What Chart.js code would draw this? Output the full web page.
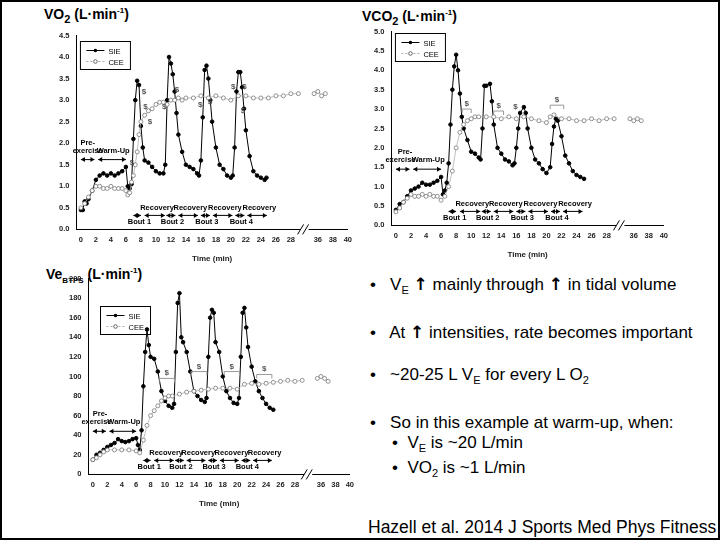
<!DOCTYPE html>
<html><head><meta charset="utf-8">
<script src="https://cdn.jsdelivr.net/npm/chart.js@4"></script>
<style>
body{margin:0;background:#fff;font-family:"Liberation Sans",Arial,sans-serif;}
#slide{position:absolute;left:0;top:0;width:716px;height:536px;border:2px solid #000;overflow:hidden;}
.c{position:absolute;}
.ttl{position:absolute;font-weight:bold;font-size:14px;color:#000;}
.ttl sub{font-size:11px;} .ttl sup{font-size:8px;}
#txt{position:absolute;left:368px;top:272px;font-size:17px;color:#000;line-height:20px;}
#txt div{margin-bottom:22px;white-space:nowrap;}
.ar{font-weight:bold;font-family:"DejaVu Sans";font-size:17px;}
#cite{position:absolute;left:366px;top:515px;font-size:17.5px;}
</style></head><body>
<div id="slide">
<div class="ttl" style="left:42px;top:4px">VO<sub>2</sub> (L·min<sup>-1</sup>)</div>
<div class="ttl" style="left:360px;top:6px">VCO<sub>2</sub> (L·min<sup>-1</sup>)</div>
<div class="ttl" style="left:44px;top:264px">Ve<sub style="font-size:8px">BTPS</sub> (L·min<sup>-1</sup>)</div>
<div class="c" style="left:54px;top:26px;width:298px;height:240px"><canvas id="c1"></canvas></div>
<div class="c" style="left:369px;top:22px;width:299px;height:240px"><canvas id="c2"></canvas></div>
<div class="c" style="left:64px;top:269px;width:290px;height:242px"><canvas id="c3"></canvas></div>
<div id="txt">
<div>•&nbsp;&nbsp; V<sub style="font-size:11px">E</sub> <span class="ar">↑</span> mainly through <span class="ar">↑</span> in tidal volume</div>
<div>•&nbsp;&nbsp; At <span class="ar">↑</span> intensities, rate becomes important</div>
<div>•&nbsp;&nbsp; ~20-25 L V<sub style="font-size:11px">E</sub> for every L O<sub style="font-size:11px">2</sub></div>
<div style="margin-bottom:0">•&nbsp;&nbsp; So in this example at warm-up, when:</div>
<div style="margin:0 0 0 22px">•&nbsp; V<sub style="font-size:11px">E</sub> is ~20 L/min</div>
<div style="margin:0 0 0 22px">•&nbsp; VO<sub style="font-size:11px">2</sub> is ~1 L/min</div>
</div>
<div id="cite">Hazell et al. 2014 J Sports Med Phys Fitness</div>
</div>
<script>
// x tick labels and their axis positions (axis has a break after 28)
const xTickLabels=[0,2,4,6,8,10,12,14,16,18,20,22,24,26,28,36,38,40];
const xTickPos=[0,2,4,6,8,10,12,14,16,18,20,22,24,26,28,31.6,33.6,35.6];
const breakShift=4.4; // real minutes beyond 30 are shown shifted left

const vo2SIE_t=[0,0.25,0.5,0.75,1,1.5,2,2.5,3,3.5,4,4.5,5,5.5,6,6.25,6.5,6.75,7,7.25,7.5,7.75,8,8.25,8.5,9,9.5,10,10.5,11,11.25,11.5,11.75,12,12.25,12.5,12.75,13,13.5,14,14.5,15,15.5,15.75,16,16.25,16.5,16.75,17,17.25,17.5,18,18.5,19,19.5,20,20.25,20.5,20.75,21,21.25,21.5,21.75,22,22.5,23,23.5,24,24.5,24.75];
const vo2SIE=[0.45,0.45,0.65,0.6,0.7,0.9,1.15,1.25,1.3,1.25,1.3,1.25,1.3,1.35,1.45,1.0,0.95,1.05,2.1,3.0,3.45,3.35,2.4,1.9,1.6,1.55,1.45,1.35,1.3,1.3,1.5,3.0,4.0,3.85,3.6,3.2,2.7,2.2,1.8,1.5,1.45,1.4,1.3,1.25,1.6,2.6,3.7,3.8,3.5,3.0,2.5,1.9,1.5,1.4,1.25,1.2,1.25,1.9,3.2,3.65,3.65,3.3,2.8,2.3,1.7,1.35,1.25,1.2,1.15,1.2];
const vo2CEE_t=[0,0.5,1,1.5,2,2.5,3,3.5,4,4.5,5,5.5,6,6.25,6.5,6.75,7,7.25,7.5,7.75,8,8.5,9,9.5,10,10.5,11,11.5,12,12.5,13,13.5,14,15,16,17,18,19,20,21,22,23,24,25,26,27,28,29,35.5,36,36.5,37];
const vo2CEE=[0.5,0.6,0.75,0.9,1.0,1.0,0.95,0.95,1.0,0.95,0.95,0.95,0.9,0.8,0.85,1.1,1.25,1.5,1.8,2.2,2.5,2.65,2.75,2.8,2.9,2.95,2.95,2.9,3.0,3.0,3.05,3.0,3.05,3.05,3.1,3.05,3.1,3.05,3.0,3.1,3.1,3.05,3.05,3.05,3.1,3.1,3.15,3.15,3.15,3.2,3.1,3.15];

const vco2SIE_t=[0,0.5,1,1.5,2,2.5,3,3.5,4,4.5,5,5.5,6,6.25,6.5,6.75,7,7.25,7.5,7.75,8,8.25,8.5,8.75,9,9.5,10,10.5,11,11.25,11.5,11.75,12,12.5,12.75,13,13.5,14,14.5,15,15.5,15.75,16,16.25,16.5,17,17.25,17.5,18,18.5,19,19.5,20,20.5,20.75,21,21.25,21.5,22,22.5,23,23.5,24,24.5,25];
const vco2SIE=[0.4,0.55,0.6,0.75,0.9,0.95,1.0,1.1,1.05,1.05,1.1,1.15,1.25,0.8,0.9,1.1,1.6,2.6,3.5,4.1,4.4,4.0,3.4,2.8,2.5,2.2,1.9,1.85,1.75,1.7,2.5,3.6,3.6,3.65,3.2,2.6,2.0,1.85,1.7,1.65,1.55,1.6,2.0,2.5,2.9,3.05,2.9,2.5,2.0,1.7,1.6,1.45,1.35,1.5,2.1,2.55,2.75,2.7,2.3,1.8,1.6,1.4,1.3,1.25,1.2];
const vco2CEE_t=[0,0.5,1,1.5,2,2.5,3,3.5,4,4.5,5,5.5,6,6.5,7,7.5,8,8.5,9,9.5,10,10.5,11,12,13,14,15,16,17,18,19,20,20.5,21,22,23,24,25,26,27,28,29,35.5,36,36.5,37];
const vco2CEE=[0.35,0.45,0.6,0.7,0.8,0.75,0.75,0.8,0.75,0.8,0.75,0.75,0.65,0.75,1.0,1.4,2.0,2.4,2.6,2.7,2.75,2.8,2.8,2.8,2.8,2.75,2.8,2.75,2.8,2.75,2.7,2.65,2.8,2.85,2.75,2.75,2.7,2.7,2.75,2.7,2.75,2.75,2.75,2.7,2.75,2.7];

const veSIE_t=[0,0.5,1,1.5,2,2.5,3,3.5,4,4.5,5,5.5,6,6.25,6.5,6.75,7,7.25,7.5,7.75,8,8.5,9,9.5,10,10.5,11,11.25,11.5,11.75,12,12.25,12.5,13,13.5,14,14.5,15,15.5,15.75,16,16.25,16.5,16.75,17,17.5,18,18.5,19,19.5,20,20.25,20.5,20.75,21,21.25,21.5,22,22.5,23,23.5,24,24.5,25];
const veSIE=[15,20,22,25,28,30,32,36,34,33,34,36,37,30,25,45,90,125,148,132,120,118,105,85,75,70,68,72,125,175,185,140,135,125,105,85,80,76,74,78,120,160,168,165,135,125,100,85,78,73,72,78,120,165,170,150,130,110,95,85,78,72,68,66];
const veCEE_t=[0,0.5,1,1.5,2,3,4,5,6,6.5,7,7.5,8,8.5,9,9.5,10,10.5,11,12,13,14,15,16,17,18,19,20,21,22,23,24,25,26,27,28,29,35.5,36,36.5,37];
const veCEE=[15,17,20,23,25,25,25,25,24,22,35,50,60,65,70,75,78,80,80,82,84,85,86,87,88,88,88,87,92,93,92,93,94,95,96,95,96,98,100,98,95];

const pos=t=>t>30?t-breakShift:t;
const pts=(ts,vs)=>ts.map((t,i)=>({x:pos(t),y:vs[i]}));

const F="'Liberation Sans',Arial,sans-serif";
function ann(cfg){return{id:'ann',afterDraw(ch){
 const c=ch.ctx,xs=ch.scales.x,ys=ch.scales.y,a=ch.chartArea;c.save();
 const X=v=>xs.getPixelForValue(v);
 function arrow(x1,x2,y){c.strokeStyle='#000';c.lineWidth=1;c.beginPath();c.moveTo(x1,y);c.lineTo(x2,y);c.stroke();
  [[x1,1],[x2,-1]].forEach(([x,d])=>{c.beginPath();c.moveTo(x,y);c.lineTo(x+4*d,y-2.5);c.lineTo(x+4*d,y+2.5);c.closePath();c.fillStyle='#000';c.fill();});}
 c.font='bold 7.5px '+F;c.fillStyle='#222';c.textAlign='center';
 const py=ys.getPixelForValue(cfg.pre);
 arrow(X(0),X(1.8),py);arrow(X(2.3),X(6),py);
 c.fillText('Pre-',X(cfg.preTx),py-15);c.fillText('exercise',X(cfg.preTx2),py-7);c.fillText('Warm-Up',X(4.3),py-7-(cfg.wuUp||0));
 const by=a.bottom-14;const b=[[7,8],[11.4,12.6],[16,17.2],[20.6,21.8]],r=[[8.5,11.2],[13,15.6],[17.6,20.2],[22.2,24.8]];
 b.forEach((s,i)=>{arrow(X(s[0]),X(s[1]),by);c.fillText('Bout '+(i+1),X(s[0]+0.8),by+9);});
 r.forEach(s=>{arrow(X(s[0]),X(s[1]),by);c.fillText('Recovery',X((s[0]+s[1])/2+0.3),by-5);});
 c.font='bold 8px '+F;c.fillStyle='#555';
 (cfg.dollars||[]).forEach(d=>c.fillText('$',X(d[0]),ys.getPixelForValue(d[1])));
 (cfg.brackets||[]).forEach(d=>{const y=ys.getPixelForValue(d[2]);c.strokeStyle='#999';c.beginPath();c.moveTo(X(d[0]),y+4);c.lineTo(X(d[0]),y);c.lineTo(X(d[1]),y);c.lineTo(X(d[1]),y+4);c.stroke();c.fillText('$',X((d[0]+d[1])/2),y-3);});
 const bx=X(29.7),ay=a.bottom;c.fillStyle='#fff';c.fillRect(bx-3,ay-2,8,4);c.strokeStyle='#000';c.lineWidth=1;
 [-3,2].forEach(o=>{c.beginPath();c.moveTo(bx+o-3,ay+5);c.lineTo(bx+o+3,ay-5);c.stroke();});
 const lx=a.left+cfg.lg[0],ly=a.top+cfg.lg[1];c.strokeStyle='#000';c.lineWidth=1;c.strokeRect(lx,ly,50,28);
 c.font='7.5px '+F;c.textAlign='left';c.fillStyle='#000';
 c.beginPath();c.moveTo(lx+6,ly+9);c.lineTo(lx+24,ly+9);c.stroke();c.beginPath();c.arc(lx+15,ly+9,1.8,0,7);c.fill();c.fillText('SIE',lx+28,ly+12);
 c.strokeStyle='#aaa';c.setLineDash([2,2]);c.beginPath();c.moveTo(lx+6,ly+20);c.lineTo(lx+24,ly+20);c.stroke();c.setLineDash([]);
 c.strokeStyle='#666';c.fillStyle='#fff';c.beginPath();c.arc(lx+15,ly+20,1.8,0,7);c.fill();c.stroke();c.fillStyle='#000';c.fillText('CEE',lx+28,ly+23);
 c.restore();}};}

function make(id,sie,cee,ymax,ystep,dec,cfg){
 new Chart(document.getElementById(id),{type:'scatter',
 data:{datasets:[
  {data:cee,showLine:true,borderColor:'#b0b0b0',borderWidth:0.8,pointRadius:2,pointBackgroundColor:'#fff',pointBorderColor:'#777',pointBorderWidth:0.8,segment:{borderColor:s=>s.p1.parsed.x-s.p0.parsed.x>1.5?'transparent':'#b0b0b0'}},
  {data:sie,showLine:true,borderColor:'#000',borderWidth:1,pointRadius:1.8,pointBackgroundColor:'#000',pointBorderColor:'#000'}]},
 options:{animation:false,responsive:true,maintainAspectRatio:false,
  layout:{padding:{left:0,right:6,top:4}},
  plugins:{legend:{display:false},tooltip:{enabled:false}},
  scales:{
   x:{type:'linear',min:-0.6,max:35.6,afterBuildTicks:ax=>{ax.ticks=xTickPos.map(v=>({value:v}));},
    ticks:{callback:v=>{const i=xTickPos.indexOf(v);return i<0?'':xTickLabels[i];},font:{size:7.5,weight:'bold',family:F},color:'#222',maxRotation:0,autoSkip:false,padding:2},
    grid:{display:false,drawTicks:true,tickLength:4,color:'#000'},border:{color:'#000'},
    title:{display:true,text:'Time (min)',font:{size:8,weight:'bold',family:F},color:'#222',padding:{top:8}}},
   y:{min:0,max:ymax,ticks:{stepSize:ystep,callback:v=>v.toFixed(dec),font:{size:7.5,weight:'bold',family:F},color:'#222',padding:3},
    grid:{display:false,tickLength:4,color:'#000'},border:{color:'#000'}}}},
 plugins:[ann(cfg)]});}

make('c1',pts(vo2SIE_t,vo2SIE),pts(vo2CEE_t,vo2CEE),4.5,0.5,1,{pre:1.62,preTx:0.9,preTx2:0.9,lg:[4,6],
 dollars:[[6.8,1.5],[8.6,2.8],[9.2,2.45],[8.4,3.15],[11.1,2.8],[12.8,3.2],[15.9,2.85],[17.2,2.9],[20.3,3.25],[21.6,2.7],[21.8,3.25]]});
make('c2',pts(vco2SIE_t,vco2SIE),pts(vco2CEE_t,vco2CEE),5.0,0.5,1,{pre:1.45,preTx:1.2,preTx2:0.6,lg:[4,2],
 dollars:[[15.9,3.0]],brackets:[[8.8,10,3.0],[13,14.3,2.95],[20.5,22.3,3.1]]});
make('c3',pts(veSIE_t,veSIE),pts(veCEE_t,veCEE),200,20,0,{pre:44,preTx:1,preTx2:0.5,lg:[12,28],
 brackets:[[9.2,11.3,98],[13.6,15.8,105],[18.2,20.3,105],[22.7,24.8,102]]});
</script></body></html>
